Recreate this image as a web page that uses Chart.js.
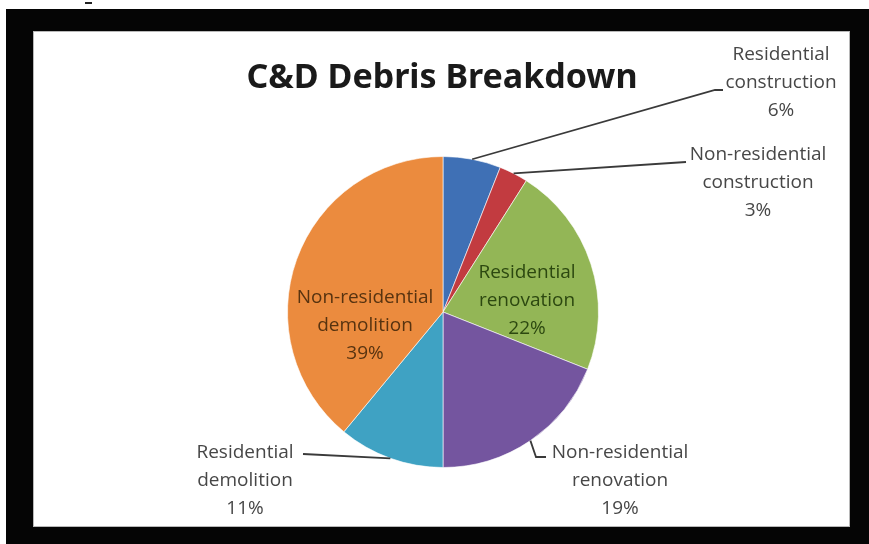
<!DOCTYPE html>
<html>
<head>
<meta charset="utf-8">
<script src="https://cdn.jsdelivr.net/npm/chart.js@4.4.0/dist/chart.umd.min.js"></script>
<style>
  html, body { margin: 0; padding: 0; background: #fff; }
  #wrap { position: relative; width: 869px; height: 544px; overflow: hidden; }
  #frame { position: absolute; left: 6px; top: 9px; width: 863px; height: 535px; background: #050505; }
  #panel { position: absolute; left: 33px; top: 31px; width: 815px; height: 494px; background: #fff; border: 1px solid #b8b8b8; }
  #dash { position: absolute; left: 85px; top: 2px; width: 7px; height: 2px; background: #222; }
  #chart { position: absolute; left: 0; top: 0; }
</style>
</head>
<body>
<div id="wrap">
  <div id="dash"></div>
  <div id="frame"></div>
  <div id="panel"></div>
  <canvas id="chart" width="869" height="544"></canvas>
</div>
<script>
const chartTitle = "C&D Debris Breakdown";
const categories = ["Residential construction", "Non-residential construction", "Residential renovation",
  "Non-residential renovation", "Residential demolition", "Non-residential demolition"];
const shares = [6, 3, 22, 19, 11, 39];
const sliceColors = ["#3f70b5", "#c23b40", "#93b656", "#74559f", "#3fa2c3", "#eb8b3e"];

// where each label goes, relative to the pie centre (px)
const labelSpots = [
  { dx: 338, dy: -257, color: "#474747", leader: [[272, -222], [280, -222]] },
  { dx: 315, dy: -157, color: "#474747", leader: [[243, -150]] },
  { dx: 84, dy: -39, color: "#2c4810" },
  { dx: 177, dy: 141, color: "#474747", leader: [[93, 145], [103, 145]] },
  { dx: -198, dy: 141, color: "#474747", leader: [[-140, 142]] },
  { dx: -78, dy: -14, color: "#573310" },
];

const pieLabels = {
  id: "pieLabels",
  afterDatasetsDraw(chart) {
    const ctx = chart.ctx;
    const arcs = chart.getDatasetMeta(0).data;
    ctx.save();
    ctx.textAlign = "center";
    ctx.textBaseline = "middle";
    // title, centred over the pie
    const c = arcs[0].getProps(["x", "y", "outerRadius"], true);
    ctx.fillStyle = "#1a1a1a";
    ctx.font = "bold 34px 'Noto Sans'";
    ctx.fillText(chartTitle, c.x - 1, c.y - 234);

    arcs.forEach((arc, i) => {
      const p = arc.getProps(["x", "y", "startAngle", "endAngle", "outerRadius"], true);
      const spot = labelSpots[i];
      if (spot.leader) {
        const mid = (p.startAngle + p.endAngle) / 2;
        ctx.beginPath();
        ctx.moveTo(p.x + Math.cos(mid) * p.outerRadius, p.y + Math.sin(mid) * p.outerRadius);
        spot.leader.forEach(pt => ctx.lineTo(p.x + pt[0], p.y + pt[1]));
        ctx.strokeStyle = "#3a3a3a";
        ctx.lineWidth = 1.8;
        ctx.stroke();
      }
      const words = categories[i].split(" ");
      const lines = [words[0], words[1], shares[i] + "%"];
      ctx.fillStyle = spot.color;
      ctx.font = "19px 'Open Sans'";
      lines.forEach((t, k) => ctx.fillText(t, p.x + spot.dx, p.y + spot.dy + k * 28));
    });
    ctx.restore();
  }
};

new Chart(document.getElementById("chart"), {
  type: "pie",
  data: {
    labels: categories,
    datasets: [{
      data: shares,
      backgroundColor: sliceColors,
      borderColor: "rgba(255,255,255,0.6)",
      borderWidth: 1,
      hoverOffset: 0,
    }],
  },
  options: {
    responsive: false,
    animation: false,
    layout: { padding: { top: 156, left: 287, right: 270, bottom: 76 } },
    plugins: {
      legend: { display: false },
      tooltip: { enabled: false },
      title: { display: false },
    },
  },
  plugins: [pieLabels],
});
</script>
</body>
</html>
